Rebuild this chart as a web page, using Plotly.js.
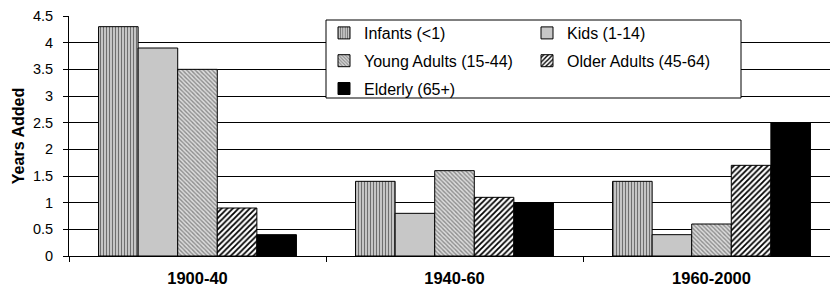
<!DOCTYPE html>
<html>
<head>
<meta charset="utf-8">
<script src="https://cdn.plot.ly/plotly-3.0.1.min.js"></script>
<style>
html,body{margin:0;padding:0;overflow:hidden;background:#fff;}
#chart{width:845px;height:310px;}
</style>
</head>
<body>
<div id="chart"></div>
<script>
const periods = ["1900-40", "1940-60", "1960-2000"];
const infants = [4.3, 1.4, 1.4];
const kids = [3.9, 0.8, 0.4];
const youngAdults = [3.5, 1.6, 0.6];
const olderAdults = [0.9, 1.1, 1.7];
const elderly = [0.4, 1.0, 2.5];
const seriesNames = ["Infants (<1)", "Kids (1-14)", "Young Adults (15-44)", "Older Adults (45-64)", "Elderly (65+)"];
const yTicks = [0, 0.5, 1, 1.5, 2, 2.5, 3, 3.5, 4, 4.5];
const yTickText = ["0", "0.5", "1", "1.5", "2", "2.5", "3", "3.5", "4", "4.5"];
const yTitle = "Years Added";
const sourceNote = "Source: Author's calculations based on data from National Center for Health Statistics, Vital Statistics";

const FONT = "Liberation Sans, Arial, sans-serif";
const line = {color: "#000", width: 1};

const styles = [
  {pattern: {shape: "|", bgcolor: "#cfcfcf", fgcolor: "#6e6e6e", size: 3, solidity: 0.4}, color: "#cfcfcf", legend: "legend", group: "a"},
  {pattern: {shape: "-", bgcolor: "#dadada", fgcolor: "#b4b4b4", size: 2, solidity: 0.5}, color: "#dadada", legend: "legend2", group: "b"},
  {pattern: {shape: "\\", bgcolor: "#dcdcdc", fgcolor: "#8c8c8c", size: 3, solidity: 0.45}, color: "#dcdcdc", legend: "legend", group: "c"},
  {pattern: {shape: "/", bgcolor: "#ffffff", fgcolor: "#000000", size: 4, solidity: 0.45}, color: "#ffffff", legend: "legend2", group: "d"},
  {pattern: {shape: ""}, color: "#000000", legend: "legend", group: "e"}
];
const values = [infants, kids, youngAdults, olderAdults, elderly];

const traces = values.map((v, i) => ({
  type: "bar",
  name: seriesNames[i],
  x: periods,
  y: v,
  legend: styles[i].legend,
  legendgroup: styles[i].group,
  marker: {color: styles[i].color, pattern: styles[i].pattern, line: line},
  hoverinfo: "none"
}));

const L = 69, R = 840, T = 16, B = 256;
const px = v => (v - L) / (R - L);
const py = v => (B - v) / (B - T);

const legendCommon = {
  orientation: "v",
  yanchor: "top",
  xanchor: "left",
  bgcolor: "rgba(0,0,0,0)",
  borderwidth: 0,
  font: {family: FONT, size: 16, color: "#000"},
  tracegroupgap: 4,
  itemwidth: 30
};

const layout = {
  width: 845,
  height: 310,
  margin: {l: L, r: 845 - R, t: T, b: 310 - B},
  paper_bgcolor: "#fff",
  plot_bgcolor: "#fff",
  barmode: "group",
  bargap: 0.23,
  bargroupgap: 0,
  showlegend: true,
  font: {family: FONT, color: "#000"},
  xaxis: {
    type: "category",
    showline: true,
    linecolor: "#000",
    linewidth: 1,
    ticks: "outside",
    tickson: "boundaries",
    ticklen: 5,
    tickcolor: "#000",
    tickfont: {family: FONT, size: 16.5, color: "#000", weight: "bold"},
    ticklabelstandoff: 7,
    showgrid: false,
    zeroline: false,
    fixedrange: true
  },
  yaxis: {
    range: [0, 4.5],
    tickvals: yTicks,
    ticktext: yTickText,
    showline: true,
    linecolor: "#000",
    linewidth: 1,
    ticks: "outside",
    ticklen: 5,
    tickcolor: "#000",
    tickfont: {family: FONT, size: 14.5, color: "#000"},
    ticklabelstandoff: 7,
    showgrid: true,
    gridcolor: "#000",
    gridwidth: 1,
    zeroline: false,
    fixedrange: true,
    title: {text: yTitle, font: {family: FONT, size: 16, color: "#000", weight: "bold"}, standoff: 4}
  },
  legend: Object.assign({}, legendCommon, {x: px(324), y: py(16)}),
  legend2: Object.assign({}, legendCommon, {x: px(527), y: py(16)}),
  shapes: [{
    type: "rect", xref: "paper", yref: "paper", layer: "above",
    x0: px(326), x1: px(741), y0: py(98), y1: py(20),
    line: {color: "#000", width: 1}, fillcolor: "#fff"
  }],
  annotations: [{
    xref: "paper", yref: "paper", x: px(60), y: py(289), xanchor: "left", yanchor: "top",
    text: sourceNote, showarrow: false, font: {family: FONT, size: 13.5, color: "#000"}
  }]
};

Plotly.newPlot("chart", traces, layout, {displayModeBar: false, staticPlot: true});
</script>
</body>
</html>
